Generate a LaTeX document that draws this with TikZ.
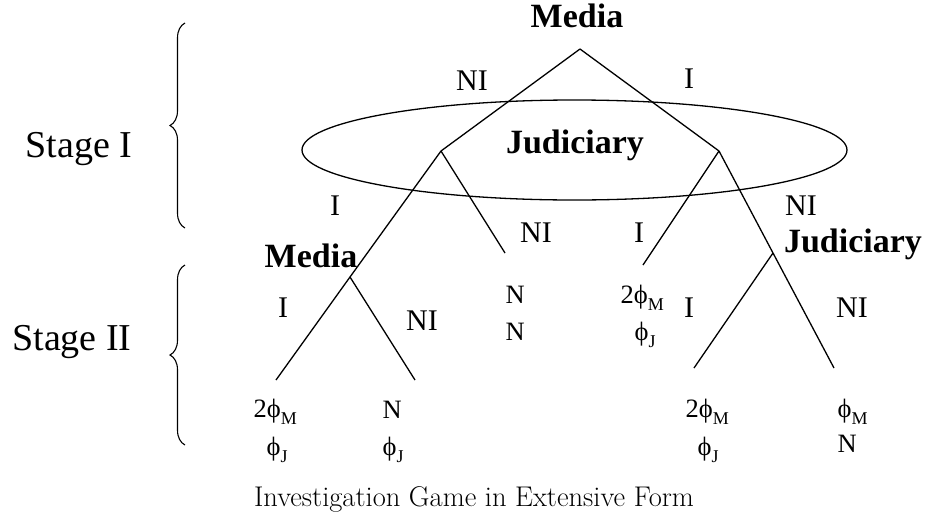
\documentclass[tikz,border=0pt]{standalone}
\usepackage{fontspec}
\newfontfamily\tnr{Liberation Serif}
\usetikzlibrary{decorations.pathreplacing}
\newcommand{\lowsub}[1]{\raisebox{-7pt}{\fontsize{18}{18}\selectfont #1}}
\tikzset{
  every picture/.style={line width=1.3pt},
  player/.style={font={\tnr\bfseries\fontsize{34}{36}\selectfont}, inner sep=0pt, anchor=base},
  act/.style={font={\tnr\fontsize{30}{32}\selectfont}, inner sep=0pt, anchor=base},
  pay/.style={font={\tnr\fontsize{26.5}{32}\selectfont}, inner sep=0pt, anchor=base west},
  stagelabel/.style={font={\tnr\fontsize{38}{40}\selectfont}, inner sep=0pt, anchor=base},
  stagebrace/.style={decorate, decoration={brace, amplitude=15pt}, line width=1.1pt},
  caption/.style={font=\fontsize{28.5}{32}\selectfont, inner sep=0pt, anchor=base},
}

\begin{document}
\begin{tikzpicture}[x=1pt, y=-1pt]
  \useasboundingbox (0,0) rectangle (927,517);
  % decision points and ends
  \coordinate (m0) at (580,49);
  \coordinate (j1) at (441,151);
  \coordinate (j2) at (719,151);
  \coordinate (m1) at (350,277);
  \coordinate (j3) at (773,253);
  \coordinate (e1) at (276,380);
  \coordinate (e2) at (415,380);
  \coordinate (e3) at (505,253);
  \coordinate (e4) at (643,265);
  \coordinate (e5) at (694,368);
  \coordinate (e6) at (834,368);
  \draw (m0) -- (j1); \draw (m0) -- (j2);
  \draw (j1) -- (m1) -- (e1); \draw (m1) -- (e2); \draw (j1) -- (e3);
  \draw (j2) -- (e4); \draw (j2) -- (j3) -- (e6); \draw (j3) -- (e5);
  % information set
  \coordinate (iset) at (574.5,150);
  \draw (iset) ellipse [x radius=272.5pt, y radius=50pt];
  % players
  \node[player] (pm0) at (577,27) {Media};
  \node[player] (pj) at (575,153) {Judiciary};
  \node[player] (pm1) at (311,267) {Media};
  \node[player] (pj3) at (853,252) {Judiciary};
  % actions
  \node[act] (a1) at (472,90) {NI};
  \node[act] (a2) at (689,88) {I};
  \node[act] (a3) at (335,215) {I};
  \node[act] (a4) at (536,242) {NI};
  \node[act] (a5) at (639,242) {I};
  \node[act] (a6) at (801,215) {NI};
  \node[act] (a7) at (283,317) {I};
  \node[act] (a8) at (422,330) {NI};
  \node[act] (a9) at (689,317) {I};
  \node[act] (a10) at (852,317) {NI};
  % payoffs
  \node[pay] (p1a) at (253,417) {2ϕ\lowsub{M}};
  \node[pay] (p1b) at (266,455) {ϕ\lowsub{J}};
  \node[pay] (p2a) at (382,418) {N};
  \node[pay] (p2b) at (382,455) {ϕ\lowsub{J}};
  \node[pay] (p3a) at (505,303) {N};
  \node[pay] (p3b) at (505,340) {N};
  \node[pay] (p4a) at (620,303) {2ϕ\lowsub{M}};
  \node[pay] (p4b) at (634,340) {ϕ\lowsub{J}};
  \node[pay] (p5a) at (685,417) {2ϕ\lowsub{M}};
  \node[pay] (p5b) at (697,455) {ϕ\lowsub{J}};
  \node[pay] (p6a) at (837,417) {ϕ\lowsub{M}};
  \node[pay] (p6b) at (837,452) {N};
  % stages
  \coordinate (s1b) at (185,228); \coordinate (s1t) at (185,23);
  \coordinate (s2b) at (185,445); \coordinate (s2t) at (185,265);
  \draw[stagebrace] (s1b) -- (s1t);
  \draw[stagebrace] (s2b) -- (s2t);
  \node[stagelabel] (st1) at (79,157) {Stage I};
  \node[stagelabel] (st2) at (72,350) {Stage II};
  \node[caption] (cap) at (474,506) {Investigation Game in Extensive Form};
\end{tikzpicture}
\end{document}
